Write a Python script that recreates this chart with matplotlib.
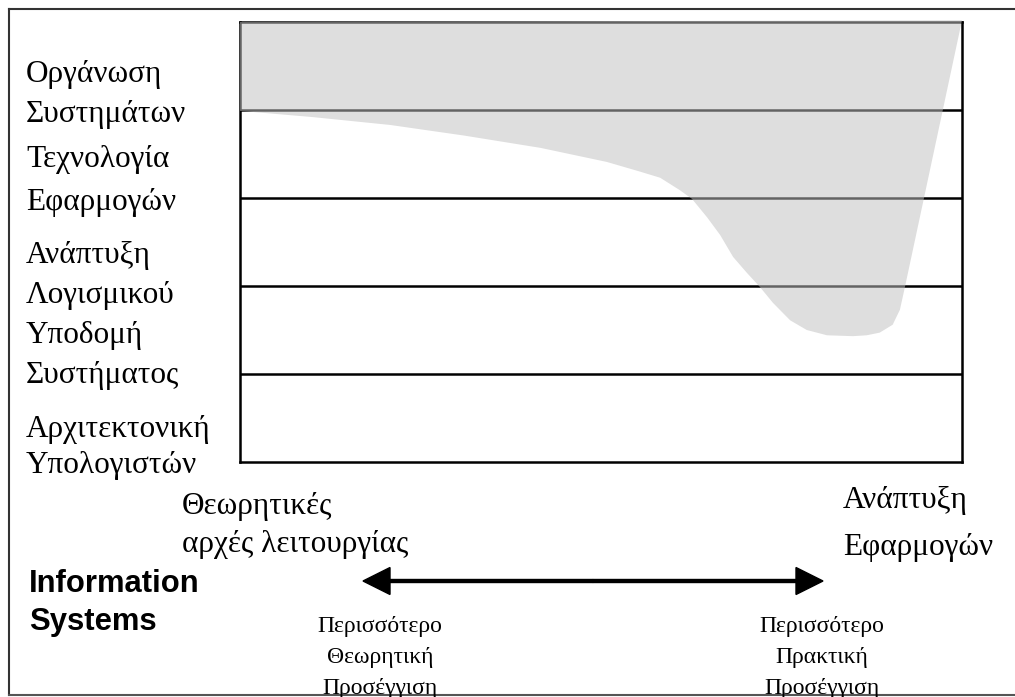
import matplotlib
matplotlib.use('Agg')
import matplotlib.pyplot as plt

# layer labels, top to bottom (two lines each)
layer_labels = [
    ('Οργάνωση', 'Συστημάτων'),
    ('Τεχνολογία', 'Εφαρμογών'),
    ('Ανάπτυξη', 'Λογισμικού'),
    ('Υποδομή', 'Συστήματος'),
    ('Αρχιτεκτονική', 'Υπολογιστών'),
]
layer_bounds = [1, 2, 3, 4]  # separators between the 5 layers

# outline of the grey area (x: 0-100 across the box, y: 0-5 layers)
shape_x = [0, 100, 92.1, 91.4, 90.4, 88.6, 86.8, 84.9, 81.3, 78.5, 76.2, 73.8, 72.0,
           70.2, 68.3, 66.5, 64.7, 62.6, 60.9, 58.2, 55.4, 50.8, 41.6, 31.0, 20.8, 10.0, 0]
shape_y = [5.0, 5.02, 1.99, 1.73, 1.56, 1.47, 1.44, 1.43, 1.44, 1.50, 1.61, 1.81, 1.99,
           2.15, 2.33, 2.58, 2.78, 2.99, 3.09, 3.23, 3.30, 3.41, 3.57, 3.71, 3.83, 3.92, 3.99]

left_end = ('Θεωρητικές', 'αρχές λειτουργίας')
right_end = ('Ανάπτυξη', 'Εφαρμογών')
left_note = ['Περισσότερο', 'Θεωρητική', 'Προσέγγιση']
right_note = ['Περισσότερο', 'Πρακτική', 'Προσέγγιση']
title_lines = ['Information', 'Systems']

W, H = 1015, 697
serif = ['Liberation Serif', 'DejaVu Serif']
sans = ['Liberation Sans', 'DejaVu Sans']
fs = 22.5

fig = plt.figure(figsize=(W / 100, H / 100), dpi=100)
fig.patch.set_facecolor('white')

# background axes in pixel units for frame, texts and arrow
bg = fig.add_axes([0, 0, 1, 1])
bg.set_xlim(0, W)
bg.set_ylim(H, 0)
bg.axis('off')

bg.plot([9, 9], [9, 695], color='#333333', lw=1.5)
bg.plot([9, W], [9, 9], color='#333333', lw=1.5)
bg.plot([9, W], [695, 695], color='#555555', lw=1.5)

# left labels
baselines = [(82, 122), (167, 210), (263, 303), (343, 383), (437, 473)]
for (l1, l2), (b1, b2) in zip(layer_labels, baselines):
    bg.text(26, b1, l1, family=serif, fontsize=fs, va='baseline', ha='left')
    bg.text(26, b2, l2, family=serif, fontsize=fs, va='baseline', ha='left')

# ends of the axis
bg.text(182, 514, left_end[0], family=serif, fontsize=fs, va='baseline')
bg.text(182, 552, left_end[1], family=serif, fontsize=fs, va='baseline')
bg.text(843, 508, right_end[0], family=serif, fontsize=fs, va='baseline')
bg.text(843, 555, right_end[1], family=serif, fontsize=fs, va='baseline')

bg.text(29, 592, title_lines[0], family=sans, fontsize=22.3, weight='bold', va='baseline')
bg.text(29, 630, title_lines[1], family=sans, fontsize=22.3, weight='bold', va='baseline')

# double headed arrow
bg.arrow(593, 581, -230, 0, width=3, head_width=27, head_length=27,
         length_includes_head=True, color='black')
bg.arrow(593, 581, 230, 0, width=3, head_width=27, head_length=27,
         length_includes_head=True, color='black')

for i, s in enumerate(left_note):
    bg.text(380, 632 + 31 * i, s, family=serif, fontsize=17, ha='center', va='baseline')
for i, s in enumerate(right_note):
    bg.text(822, 632 + 31 * i, s, family=serif, fontsize=17, ha='center', va='baseline')

# layer box
ax = fig.add_axes([240 / W, (H - 462) / H, (962 - 240) / W, (462 - 22) / H])
ax.set_xlim(0, 100)
ax.set_ylim(0, 5)
ax.set_xticks([])
ax.set_yticks([])
for sp in ax.spines.values():
    sp.set_linewidth(1.8)
    sp.set_color('black')
for b in layer_bounds:
    ax.axhline(b, color='black', lw=1.8, zorder=1)
ax.fill(shape_x, shape_y, color='#c0c0c0', alpha=0.52, lw=0, zorder=3, clip_on=False)

fig.savefig('out.png', dpi=100)
